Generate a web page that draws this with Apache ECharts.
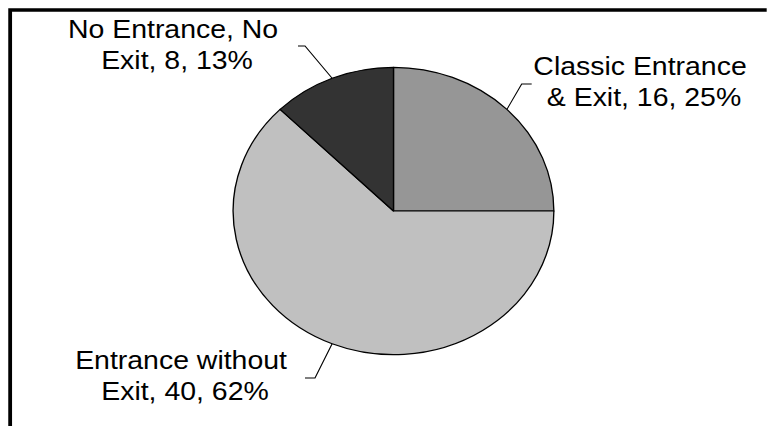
<!DOCTYPE html>
<html><head><meta charset="utf-8">
<script src="https://cdn.jsdelivr.net/npm/echarts@6/dist/echarts.min.js"></script>
<style>
html,body{margin:0;padding:0;background:#fff;overflow:hidden;}
#wrap{position:absolute;left:0;top:0;width:767px;height:426px;overflow:hidden;background:#fff;}
#chart{position:absolute;left:0;top:0;height:426px;transform-origin:0 0;}
</style></head><body>
<div id="wrap"><div id="chart"></div></div>
<script>
// ---- data ----
const categories = ['Classic Entrance & Exit', 'Entrance without Exit', 'No Entrance, No Exit'];
const values = [16, 40, 8];
const percents = [25, 62, 13];

// ---- styling ----
const colors = ['#969696', '#c0c0c0', '#333333'];
const SX = 1.116; // the original picture is stretched horizontally
const W = 767 / SX;
const el = document.getElementById('chart');
el.style.width = W + 'px';
el.style.transform = 'scaleX(' + SX + ')';
const chart = echarts.init(el, null, {renderer: 'svg', width: W, height: 426});

// label placement in screen pixels
const labelPos = [
  {x: 644, y: 82, elbow: [521.7, 84], end: [531.7, 84]},
  {x: 185, y: 376, elbow: [315, 378], end: [305, 378]},
  {x: 177, y: 45, elbow: [305, 46], end: [298, 46]}
];

const option = {
  animation: false,
  graphic: [{
    type: 'polyline',
    shape: {points: [[9.1, 460], [9.1, 10], [W + 20, 10]]},
    style: {stroke: '#000', lineWidth: 3.4, fill: null}
  }],
  series: [{
    type: 'pie',
    center: [393.5 / SX, 211],
    radius: 143.7,
    startAngle: 90,
    clockwise: true,
    silent: true,
    emphasis: {disabled: true},
    data: categories.map((n, i) => ({name: n, value: values[i], itemStyle: {color: colors[i]}})),
    itemStyle: {borderColor: '#000', borderWidth: 1.2},
    label: {
      show: true,
      position: 'outside',
      formatter: p => p.name + ', ' + p.value + ', ' + percents[p.dataIndex] + '%',
      fontFamily: '"Liberation Sans", Arial, sans-serif',
      fontSize: 25.5,
      lineHeight: 31,
      color: '#000',
      width: 199,
      overflow: 'break',
      align: 'center'
    },
    labelLine: {show: true, length: 20, length2: 10, smooth: false, lineStyle: {color: '#000', width: 1}},
    labelLayout: function (params) {
      const c = labelPos[params.dataIndex];
      const pts = params.labelLinePoints;
      const out = {x: c.x / SX, y: c.y, align: 'center', verticalAlign: 'middle'};
      if (pts) {
        out.labelLinePoints = [pts[0], [c.elbow[0] / SX, c.elbow[1]], [c.end[0] / SX, c.end[1]]];
      }
      return out;
    }
  }]
};
chart.setOption(option);
</script>
</body></html>
